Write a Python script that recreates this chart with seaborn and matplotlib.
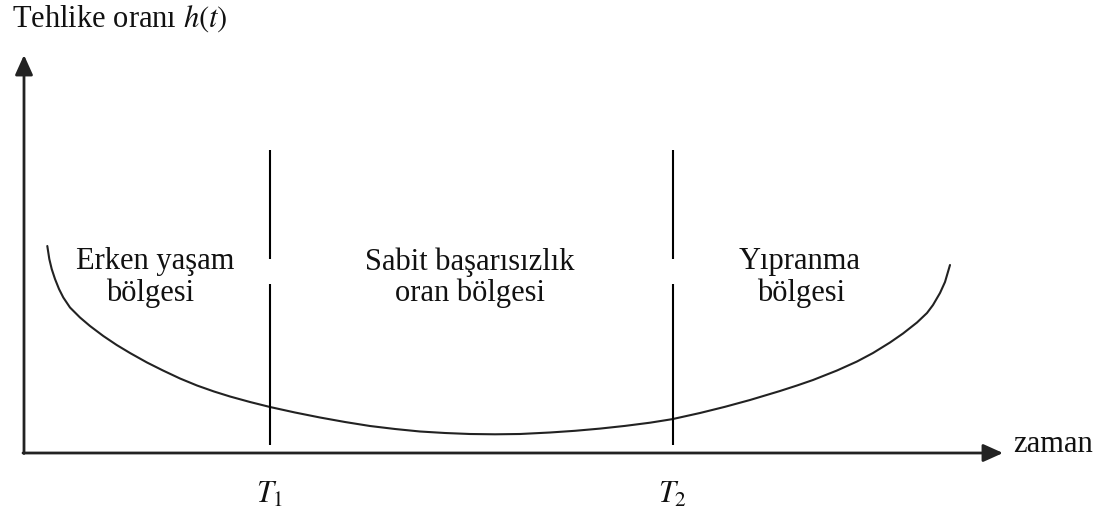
import numpy as np
import pandas as pd
import matplotlib
matplotlib.use("Agg")
import matplotlib.pyplot as plt
import seaborn as sns

# Bathtub hazard curve h(t), sampled along time t
time = [0.233, 0.253, 0.277, 0.31, 0.35, 0.393, 0.46, 0.56, 0.66, 0.793, 0.927,
        1.06, 1.23, 1.39, 1.56, 1.73, 1.90, 2.06, 2.26, 2.46, 2.71, 2.96, 3.21,
        3.46, 3.71, 3.96, 4.21, 4.46, 4.71, 4.96, 5.26, 5.51, 5.76, 6.01, 6.26,
        6.48, 6.76, 7.01, 7.26, 7.56, 7.73, 7.89, 8.13, 8.33, 8.49, 8.66,
        8.79, 8.93, 9.03, 9.09, 9.16, 9.21, 9.26]
hazard = [2.07, 1.94, 1.84, 1.74, 1.64, 1.555, 1.455, 1.355, 1.27, 1.17, 1.08,
          1.00, 0.905, 0.825, 0.745, 0.675, 0.615, 0.565, 0.51, 0.46, 0.405, 0.355,
          0.31, 0.27, 0.24, 0.215, 0.20, 0.19, 0.187, 0.19, 0.205, 0.222, 0.244,
          0.271, 0.303, 0.338, 0.40, 0.462, 0.53, 0.62, 0.675, 0.73, 0.825, 0.915,
          1.00, 1.105, 1.195, 1.305, 1.40, 1.48, 1.60, 1.71, 1.88]

# Region boundaries
boundaries = [2.46, 6.49]
boundary_labels = [r"$T_1$", r"$T_2$"]

# Region names (two lines each) and their centres on the time axis
region_top = ["Erken yaşam", "Sabit başarısızlık", "Yıpranma"]
region_bottom = ["bölgesi", "oran bölgesi", "bölgesi"]
region_top_x = [1.31, 4.46, 7.76]
region_bottom_x = [1.26, 4.46, 7.77]

sns.set_theme(style="white")
plt.rcParams["font.family"] = ["Liberation Serif", "DejaVu Serif"]
plt.rcParams["mathtext.fontset"] = "stix"
plt.rcParams["text.color"] = "#111111"

fig = plt.figure(figsize=(11.05, 5.25), dpi=100)
ax = fig.add_axes([0, 0, 1, 1])
ax.set_xlim(-0.24, 10.81)
ax.set_ylim(-0.72, 4.53)
ax.axis("off")

df = pd.DataFrame({"t": time, "h": hazard})
sns.lineplot(data=df, x="t", y="h", ax=ax, color="#222222", linewidth=1.5,
             sort=False, estimator=None)

# Axes with arrow heads
arrow = dict(arrowstyle="-|>,head_length=1.0,head_width=0.45",
             color="#222222", lw=2.0, shrinkA=0, shrinkB=0)
ax.annotate("", xy=(0.0, 3.98), xytext=(0.0, -0.005), arrowprops=arrow)
ax.annotate("", xy=(9.79, 0.0), xytext=(-0.01, 0.0), arrowprops=arrow)

# Broken vertical boundary lines
for bx, lab in zip(boundaries, boundary_labels):
    ax.plot([bx, bx], [3.03, 1.94], color="black", lw=1.5, solid_capstyle="butt")
    ax.plot([bx, bx], [1.69, 0.08], color="black", lw=1.5, solid_capstyle="butt")
    ax.text(bx, -0.42, lab, ha="center", va="center", fontsize=22)

for x, s in zip(region_top_x, region_top):
    ax.text(x, 1.91, s, ha="center", va="center", fontsize=22)
for x, s in zip(region_bottom_x, region_bottom):
    ax.text(x, 1.60, s, ha="center", va="center", fontsize=22)

ax.text(-0.12, 4.34, r"Tehlike oranı $h(t)$", ha="left", va="center", fontsize=22)
ax.text(9.89, 0.08, "zaman", ha="left", va="center", fontsize=22)

fig.savefig("out.png", dpi=100)
